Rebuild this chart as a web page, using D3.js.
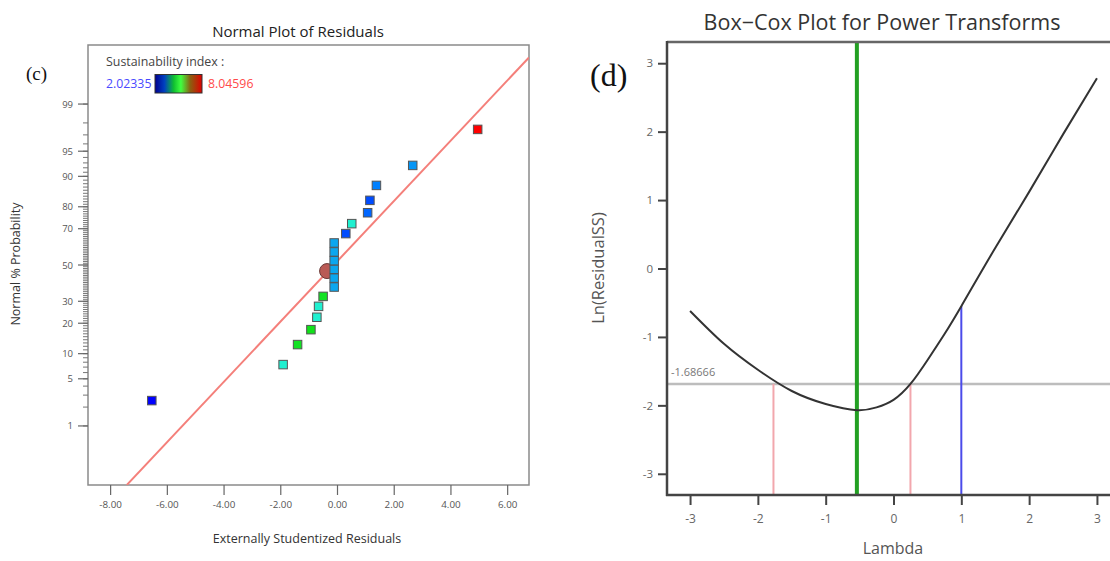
<!DOCTYPE html>
<html><head><meta charset="utf-8">
<script src="https://cdn.jsdelivr.net/npm/d3@7"></script>
<style>body{margin:0;background:#fff;} text{font-family:"Open Sans",sans-serif;}</style>
</head><body>
<svg id="c" width="1110" height="561"></svg>
<script>
// ---------- DATA: panel (c) Normal plot of residuals ----------
const residuals = [-6.53, -1.90, -1.39, -0.92, -0.71, -0.65, -0.49, -0.10, -0.10, -0.10, -0.10, -0.10, -0.10, 0.31, 0.52, 1.08, 1.16, 1.39, 2.67, 4.96];
const probabilities = [2.5, 7.5, 12.5, 17.5, 22.5, 27.5, 32.5, 37.5, 42.5, 47.5, 52.5, 57.5, 62.5, 67.5, 72.5, 77.5, 82.5, 87.5, 92.5, 97.5];
const sustainIndex = [2.02335, 4.0, 4.9, 4.95, 4.0, 4.0, 4.9, 3.35, 3.35, 3.35, 3.35, 3.35, 3.35, 2.6, 4.0, 2.8, 2.6, 3.0, 3.2, 8.04596];
const fitLineX = [-7.41, 6.77];
const fitLineP = [0.074, 99.865];
const centerPoint = {x: -0.35, p: 46.5};
const probTickLabels = [1, 5, 10, 20, 30, 50, 70, 80, 90, 95, 99];
const probMinorTicks = d3.range(1, 100);
const residTicks = [-8, -6, -4, -2, 0, 2, 4, 6];
const legendMin = 2.02335, legendMax = 8.04596;

// ---------- DATA: panel (d) Box-Cox ----------
const lambdas = [-3, -2.5, -2, -1.5, -1, -0.54, -0.25, 0, 0.25, 0.5, 0.75, 1, 1.5, 2, 2.5, 3];
const lnResidualSS = [-0.62, -1.10, -1.48, -1.79, -1.98, -2.07, -2.03, -1.92, -1.687, -1.34, -0.96, -0.55, 0.30, 1.12, 1.96, 2.78];
const bestLambda = -0.54;
const ciLambda = [-1.77, 0.25];
const currentLambda = 1;
const ciLevel = -1.68666;
const lambdaTicks = [-3, -2, -1, 0, 1, 2, 3];
const lnTicks = [-3, -2, -1, 0, 1, 2, 3];

// inverse normal CDF (Acklam)
function probit(p){
  const a=[-3.969683028665376e+01,2.209460984245205e+02,-2.759285104469687e+02,1.383577518672690e+02,-3.066479806614716e+01,2.506628277459239e+00];
  const b=[-5.447609879822406e+01,1.615858368580409e+02,-1.556989798598866e+02,6.680131188771972e+01,-1.328068155288572e+01];
  const c=[-7.784894002430293e-03,-3.223964580411365e-01,-2.400758277161838e+00,-2.549732539343734e+00,4.374664141464968e+00,2.938163982698783e+00];
  const d=[7.784695709041462e-03,3.224671290700398e-01,2.445134137142996e+00,3.754408661907416e+00];
  const pl=0.02425; let q,r;
  if(p<pl){q=Math.sqrt(-2*Math.log(p));return (((((c[0]*q+c[1])*q+c[2])*q+c[3])*q+c[4])*q+c[5])/((((d[0]*q+d[1])*q+d[2])*q+d[3])*q+1);}
  if(p>1-pl){q=Math.sqrt(-2*Math.log(1-p));return -(((((c[0]*q+c[1])*q+c[2])*q+c[3])*q+c[4])*q+c[5])/((((d[0]*q+d[1])*q+d[2])*q+d[3])*q+1);}
  q=p-0.5;r=q*q;return (((((a[0]*r+a[1])*r+a[2])*r+a[3])*r+a[4])*r+a[5])*q/(((((b[0]*r+b[1])*r+b[2])*r+b[3])*r+b[4])*r+1);
}

const svg = d3.select("#c");
const defs = svg.append("defs");

// ================= PANEL C =================
const gC = svg.append("g");
const xC = d3.scaleLinear().domain([-8.78, 6.77]).range([88, 529]);
const zC = d3.scaleLinear().domain([-3.18, 3.18]).range([485, 45]);
const yC = p => zC(probit(p/100));
const colorC = d3.scaleLinear().domain([2.02335, 3.0, 4.0, 5.0, 8.04596])
  .range(["#0000ff", "#0080ff", "#20f0d0", "#10e010", "#ff0000"]);

gC.append("text").attr("x", 298).attr("y", 37).attr("text-anchor", "middle")
  .attr("font-size", 15).attr("fill", "#222").text("Normal Plot of Residuals");
gC.append("text").attr("x", 26).attr("y", 80).style("font-family", "Liberation Serif, serif")
  .attr("font-size", 19).attr("fill", "#111").text("(c)");

// box
gC.append("rect").attr("x", 88).attr("y", 45).attr("width", 441).attr("height", 440)
  .attr("fill", "none").attr("stroke", "#8a8a8a").attr("stroke-width", 1.5);

// y axis ticks
gC.selectAll("line.minor").data(probMinorTicks).join("line").attr("class", "minor")
  .attr("x1", 83).attr("x2", 88).attr("y1", d => yC(d)).attr("y2", d => yC(d))
  .attr("stroke", "#777").attr("stroke-width", 1);
gC.selectAll("line.major").data(probTickLabels).join("line").attr("class", "major")
  .attr("x1", 78).attr("x2", 88).attr("y1", d => yC(d)).attr("y2", d => yC(d))
  .attr("stroke", "#666").attr("stroke-width", 1.2);
gC.selectAll("text.yt").data(probTickLabels).join("text").attr("class", "yt")
  .attr("x", 73).attr("y", d => yC(d) + 3.5).attr("text-anchor", "end")
  .attr("font-size", 9.5).attr("fill", "#555").text(d => d);
gC.append("text").attr("transform", "translate(20,264) rotate(-90)").attr("text-anchor", "middle")
  .attr("font-size", 12.5).attr("fill", "#333").text("Normal % Probability");

// x axis
const xAxisC = d3.axisBottom(xC).tickValues(residTicks).tickFormat(d => d.toFixed(2)).tickSize(10).tickPadding(6);
const gxC = gC.append("g").attr("transform", "translate(0,485)").call(xAxisC);
gxC.select(".domain").remove();
gxC.selectAll("line").attr("stroke", "#666").attr("stroke-width", 1.2);
gxC.selectAll("text").attr("font-size", 9.8).attr("fill", "#555").style("font-family", "Open Sans, sans-serif");
gC.append("text").attr("x", 307).attr("y", 543).attr("text-anchor", "middle")
  .attr("font-size", 12.5).attr("fill", "#333").text("Externally Studentized Residuals");

// legend
gC.append("text").attr("x", 106).attr("y", 66).attr("font-size", 12.4).attr("fill", "#444").text("Sustainability index :");
gC.append("text").attr("x", 106).attr("y", 88).attr("font-size", 12.3).attr("fill", "#4a4aff").text(legendMin);
gC.append("text").attr("x", 208).attr("y", 88).attr("font-size", 12.3).attr("fill", "#ff4a4a").text(legendMax);
const lg = defs.append("linearGradient").attr("id", "lg");
[[0, "#000090"], [0.2, "#0040c0"], [0.4, "#10c030"], [0.55, "#40ff40"], [0.75, "#8a6010"], [1, "#e00000"]]
  .forEach(s => lg.append("stop").attr("offset", s[0]).attr("stop-color", s[1]));
gC.append("rect").attr("x", 155).attr("y", 74.5).attr("width", 47).attr("height", 18.5)
  .attr("fill", "url(#lg)").attr("stroke", "#333").attr("stroke-width", 1);

defs.append("clipPath").attr("id", "clipC").append("rect").attr("x", 88).attr("y", 45).attr("width", 441).attr("height", 440);

// fit line
gC.append("line").attr("clip-path", "url(#clipC)")
  .attr("x1", xC(fitLineX[0])).attr("y1", yC(fitLineP[0]))
  .attr("x2", xC(fitLineX[1])).attr("y2", yC(fitLineP[1]))
  .attr("stroke", "#f47f7a").attr("stroke-width", 2);

// center circle
gC.append("circle").attr("cx", xC(centerPoint.x)).attr("cy", yC(centerPoint.p)).attr("r", 7.5)
  .attr("fill", "#b95a55").attr("stroke", "#6a3a38").attr("stroke-width", 1);

// points
const pts = residuals.map((r, i) => ({r, p: probabilities[i], s: sustainIndex[i]}));
const sq = 8.5;
gC.selectAll("rect.pt").data(pts).join("rect").attr("class", "pt")
  .attr("x", d => xC(d.r) - sq/2).attr("y", d => yC(d.p) - sq/2)
  .attr("width", sq).attr("height", sq)
  .attr("fill", d => colorC(d.s)).attr("stroke", "#555").attr("stroke-width", 1);

// ================= PANEL D =================
const gD = svg.append("g");
const xD = d3.scaleLinear().domain([-3.34, 3.34]).range([667, 1120]);
const yD = d3.scaleLinear().domain([-3.31, 3.31]).range([495, 42]);

gD.append("text").attr("x", 882).attr("y", 30).attr("text-anchor", "middle")
  .attr("font-size", 21.5).attr("fill", "#333").text("Box\u2212Cox Plot for Power Transforms");
gD.append("text").attr("x", 590).attr("y", 86).style("font-family", "Liberation Serif, serif")
  .attr("font-size", 32).attr("fill", "#111").text("(d)");

// horizontal CI level line
gD.append("line").attr("x1", 667).attr("x2", 1120).attr("y1", yD(ciLevel)).attr("y2", yD(ciLevel))
  .attr("stroke", "#bdbdbd").attr("stroke-width", 2.5);
gD.append("text").attr("x", 671).attr("y", yD(ciLevel) - 8).attr("font-size", 11)
  .attr("fill", "#777").text(ciLevel);

// curve (natural cubic spline through the read points)
const line = d3.line().x((d, i) => xD(lambdas[i])).y(d => yD(d)).curve(d3.curveNatural);
const curvePath = gD.append("path").datum(lnResidualSS).attr("d", line).attr("fill", "none")
  .attr("stroke", "#333").attr("stroke-width", 2);

function curveYAt(lam) {
  const node = curvePath.node(), L = node.getTotalLength(), tx = xD(lam);
  let lo = 0, hi = L;
  for (let k = 0; k < 40; k++) { const m = (lo + hi) / 2; if (node.getPointAtLength(m).x < tx) lo = m; else hi = m; }
  return node.getPointAtLength(lo).y;
}

gD.selectAll("line.ci").data(ciLambda).join("line").attr("class", "ci")
  .attr("x1", d => xD(d)).attr("x2", d => xD(d)).attr("y1", 495).attr("y2", yD(ciLevel))
  .attr("stroke", "#f2a7ad").attr("stroke-width", 2);
gD.append("line").attr("x1", xD(currentLambda)).attr("x2", xD(currentLambda))
  .attr("y1", 495).attr("y2", curveYAt(currentLambda))
  .attr("stroke", "#4b4bea").attr("stroke-width", 2);
gD.append("line").attr("x1", xD(bestLambda)).attr("x2", xD(bestLambda)).attr("y1", 42).attr("y2", 495)
  .attr("stroke", "#23a023").attr("stroke-width", 4);
curvePath.raise();

// frame
gD.append("line").attr("x1", 667).attr("x2", 1120).attr("y1", 42).attr("y2", 42).attr("stroke", "#666").attr("stroke-width", 2.5);
gD.append("line").attr("x1", 667).attr("x2", 667).attr("y1", 41).attr("y2", 496).attr("stroke", "#444").attr("stroke-width", 2.5);
gD.append("line").attr("x1", 666).attr("x2", 1120).attr("y1", 495).attr("y2", 495).attr("stroke", "#444").attr("stroke-width", 2.5);

// axes
const gyD = gD.append("g").attr("transform", "translate(667,0)")
  .call(d3.axisLeft(yD).tickValues(lnTicks).tickFormat(d => String(d)).tickSize(9).tickPadding(5));
gyD.select(".domain").remove();
gyD.selectAll("line").attr("stroke", "#444").attr("stroke-width", 2);
gyD.selectAll("text").attr("font-size", 11.5).attr("fill", "#666").style("font-family", "Open Sans, sans-serif");
const gxD = gD.append("g").attr("transform", "translate(0,495)")
  .call(d3.axisBottom(xD).tickValues(lambdaTicks).tickFormat(d => String(d)).tickSize(10).tickPadding(9));
gxD.select(".domain").remove();
gxD.selectAll("line").attr("stroke", "#444").attr("stroke-width", 2);
gxD.selectAll("text").attr("font-size", 12).attr("fill", "#666").style("font-family", "Open Sans, sans-serif");

gD.append("text").attr("transform", "translate(604,268) rotate(-90)").attr("text-anchor", "middle")
  .attr("font-size", 16.5).attr("fill", "#555").text("Ln(ResidualSS)");
gD.append("text").attr("x", 893).attr("y", 554).attr("text-anchor", "middle")
  .attr("font-size", 16).attr("fill", "#555").text("Lambda");
</script>
</body></html>
